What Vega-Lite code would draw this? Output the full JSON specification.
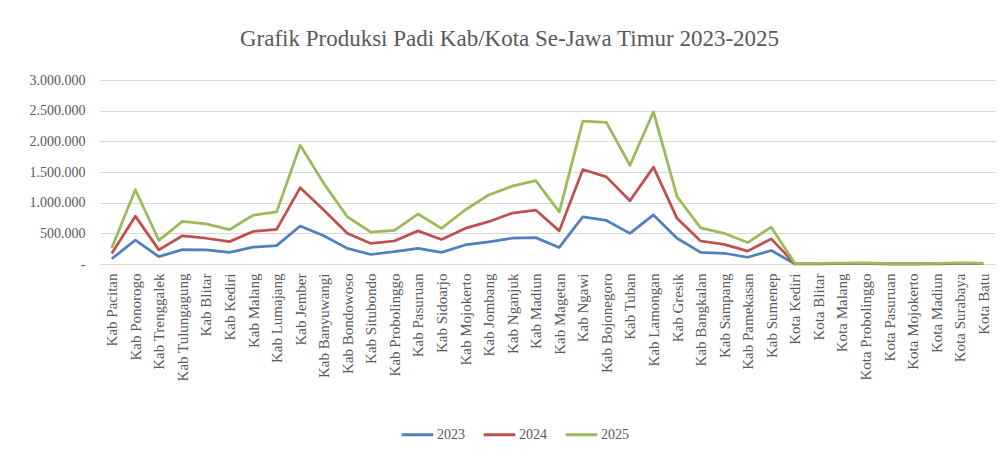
{
  "$schema": "https://vega.github.io/schema/vega-lite/v6.json",
  "autosize": {"type": "none"},
  "width": 895,
  "height": 184,
  "padding": {"left": 100, "top": 80, "right": 11, "bottom": 186},
  "background": "white",
  "title": {
    "text": "Grafik Produksi Padi Kab/Kota Se-Jawa Timur 2023-2025",
    "font": "Liberation Serif",
    "fontSize": 23,
    "fontWeight": "normal",
    "color": "#595959",
    "anchor": "middle",
    "frame": "group",
    "dx": -38,
    "offset": 22
  },
  "config": {
    "locale": {"number": {"decimal": ",", "thousands": ".", "grouping": [3], "currency": ["Rp", ""]}},
    "view": {"stroke": null}
  },
  "datasets": {
    "wide": [
      {"wilayah": "Kab Pacitan", "y2023": 85000, "y2024": 170000, "y2025": 260000},
      {"wilayah": "Kab Ponorogo", "y2023": 390000, "y2024": 780000, "y2025": 1210000},
      {"wilayah": "Kab Trenggalek", "y2023": 120000, "y2024": 230000, "y2025": 385000},
      {"wilayah": "Kab Tulungagung", "y2023": 235000, "y2024": 460000, "y2025": 695000},
      {"wilayah": "Kab Blitar", "y2023": 230000, "y2024": 420000, "y2025": 655000},
      {"wilayah": "Kab Kediri", "y2023": 190000, "y2024": 365000, "y2025": 560000},
      {"wilayah": "Kab Malang", "y2023": 275000, "y2024": 530000, "y2025": 795000},
      {"wilayah": "Kab Lumajang", "y2023": 300000, "y2024": 565000, "y2025": 850000},
      {"wilayah": "Kab Jember", "y2023": 620000, "y2024": 1245000, "y2025": 1935000},
      {"wilayah": "Kab Banyuwangi", "y2023": 460000, "y2024": 880000, "y2025": 1315000},
      {"wilayah": "Kab Bondowoso", "y2023": 255000, "y2024": 500000, "y2025": 770000},
      {"wilayah": "Kab Situbondo", "y2023": 155000, "y2024": 335000, "y2025": 520000},
      {"wilayah": "Kab Probolinggo", "y2023": 200000, "y2024": 375000, "y2025": 550000},
      {"wilayah": "Kab Pasuruan", "y2023": 255000, "y2024": 540000, "y2025": 815000},
      {"wilayah": "Kab Sidoarjo", "y2023": 190000, "y2024": 400000, "y2025": 580000},
      {"wilayah": "Kab Mojokerto", "y2023": 310000, "y2024": 580000, "y2025": 880000},
      {"wilayah": "Kab Jombang", "y2023": 360000, "y2024": 690000, "y2025": 1125000},
      {"wilayah": "Kab Nganjuk", "y2023": 420000, "y2024": 830000, "y2025": 1270000},
      {"wilayah": "Kab Madiun", "y2023": 430000, "y2024": 880000, "y2025": 1360000},
      {"wilayah": "Kab Magetan", "y2023": 270000, "y2024": 540000, "y2025": 850000},
      {"wilayah": "Kab Ngawi", "y2023": 770000, "y2024": 1540000, "y2025": 2330000},
      {"wilayah": "Kab Bojonegoro", "y2023": 710000, "y2024": 1420000, "y2025": 2310000},
      {"wilayah": "Kab Tuban", "y2023": 500000, "y2024": 1030000, "y2025": 1610000},
      {"wilayah": "Kab Lamongan", "y2023": 800000, "y2024": 1580000, "y2025": 2480000},
      {"wilayah": "Kab Gresik", "y2023": 420000, "y2024": 745000, "y2025": 1100000},
      {"wilayah": "Kab Bangkalan", "y2023": 190000, "y2024": 375000, "y2025": 590000},
      {"wilayah": "Kab Sampang", "y2023": 175000, "y2024": 320000, "y2025": 500000},
      {"wilayah": "Kab Pamekasan", "y2023": 110000, "y2024": 210000, "y2025": 350000},
      {"wilayah": "Kab Sumenep", "y2023": 220000, "y2024": 410000, "y2025": 600000},
      {"wilayah": "Kota Kediri", "y2023": 4000, "y2024": 8000, "y2025": 12000},
      {"wilayah": "Kota Blitar", "y2023": 3000, "y2024": 6000, "y2025": 9000},
      {"wilayah": "Kota Malang", "y2023": 5000, "y2024": 10000, "y2025": 15000},
      {"wilayah": "Kota Probolinggo", "y2023": 6000, "y2024": 12000, "y2025": 18000},
      {"wilayah": "Kota Pasuruan", "y2023": 2000, "y2024": 4000, "y2025": 6000},
      {"wilayah": "Kota Mojokerto", "y2023": 1000, "y2024": 2000, "y2025": 3000},
      {"wilayah": "Kota Madiun", "y2023": 4000, "y2024": 8000, "y2025": 12000},
      {"wilayah": "Kota Surabaya", "y2023": 6000, "y2024": 12000, "y2025": 18000},
      {"wilayah": "Kota Batu", "y2023": 5000, "y2024": 10000, "y2025": 15000}
    ]
  },
  "data": {"name": "wide"},
  "transform": [
    {"fold": ["y2023", "y2024", "y2025"], "as": ["key", "produksi"]},
    {"lookup": "key", "from": {"data": {"values": [
      {"key": "y2023", "tahun": "2023"},
      {"key": "y2024", "tahun": "2024"},
      {"key": "y2025", "tahun": "2025"}
    ]}, "key": "key", "fields": ["tahun"]}}
  ],
  "mark": {"type": "line", "strokeWidth": 2.75, "strokeJoin": "round"},
  "encoding": {
    "x": {
      "field": "wilayah",
      "type": "nominal",
      "sort": null,
      "title": null,
      "axis": {
        "labelAngle": -90,
        "labelFont": "Liberation Serif",
        "labelFontSize": 15,
        "labelColor": "#595959",
        "labelPadding": 9,
        "ticks": false,
        "domainColor": "#d9d9d9",
        "domainWidth": 1,
        "grid": false
      }
    },
    "y": {
      "field": "produksi",
      "type": "quantitative",
      "title": null,
      "scale": {"domain": [0, 3000000], "nice": false},
      "axis": {
        "values": [0, 500000, 1000000, 1500000, 2000000, 2500000, 3000000],
        "format": ",d",
        "labelExpr": "datum.value == 0 ? '-' : datum.label",
        "labelFont": "Liberation Serif",
        "labelFontSize": 14,
        "labelColor": "#595959",
        "labelPadding": 15,
        "ticks": false,
        "domain": false,
        "gridColor": "#d9d9d9",
        "gridWidth": 1
      }
    },
    "color": {
      "field": "tahun",
      "type": "nominal",
      "scale": {"domain": ["2023", "2024", "2025"], "range": ["#4F81BD", "#C0504D", "#9BBB59"]},
      "legend": {
        "title": null,
        "orient": "none",
        "direction": "horizontal",
        "legendX": 300,
        "legendY": 337,
        "symbolType": "stroke",
        "symbolSize": 1000,
        "symbolStrokeWidth": 3,
        "labelFont": "Liberation Serif",
        "labelFontSize": 14,
        "labelColor": "#595959",
        "columnPadding": 12,
        "labelOffset": 2
      }
    }
  }
}
